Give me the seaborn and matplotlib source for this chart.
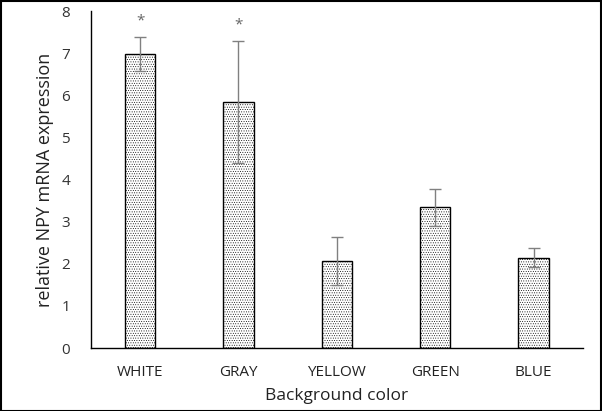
import matplotlib
matplotlib.use("Agg")
import matplotlib.pyplot as plt
import seaborn as sns
import pandas as pd
import numpy as np

categories = ["WHITE", "GRAY", "YELLOW", "GREEN", "BLUE"]
values = [6.98, 5.84, 2.07, 3.34, 2.15]
errors = [0.41, 1.45, 0.56, 0.43, 0.22]
stars = ["*", "*", "", "", ""]
yticks = [0, 1, 2, 3, 4, 5, 6, 7, 8]

sns.set_theme(style="white")
plt.rcParams["font.family"] = ["Open Sans", "DejaVu Sans"]
plt.rcParams["hatch.linewidth"] = 0.35
plt.rcParams["hatch.color"] = "#808080"

df = pd.DataFrame({"cat": categories, "val": values})

fig = plt.figure(figsize=(6.02, 4.11), dpi=100)
ax = fig.add_axes([0.151, 0.153, 0.817, 0.820])

sns.barplot(data=df, x="cat", y="val", ax=ax, color="white", edgecolor="black",
            linewidth=1.0, width=0.31, errorbar=None)
for p in ax.patches:
    p.set_hatch(".......")

x = np.arange(len(categories))
ax.errorbar(x, values, yerr=errors, fmt="none", ecolor="#808080",
            elinewidth=1.0, capsize=4, capthick=1.0)

for xi, v, e, s in zip(x, values, errors, stars):
    if s:
        ax.text(xi, v + e + 0.2, s, ha="center", va="bottom", fontsize=11, color="#666666")

ax.set_ylim(0, 8)
ax.set_yticks(yticks)
ax.set_xlim(-0.5, len(categories) - 0.5)
ax.tick_params(axis="y", direction="in", length=5, width=1, color="black", labelsize=11, pad=15)
ax.tick_params(axis="x", length=0, labelsize=11, pad=12)
for lbl in ax.get_yticklabels():
    lbl.set_color("#333333")
for lbl in ax.get_xticklabels():
    lbl.set_color("#222222")

sns.despine(ax=ax, top=True, right=True)
ax.spines["left"].set_color("black")
ax.spines["bottom"].set_color("black")
ax.spines["left"].set_linewidth(1.0)
ax.spines["bottom"].set_linewidth(1.0)

ax.set_xlabel("Background color", fontsize=12.5, labelpad=6, color="#222222")
ax.set_ylabel("relative NPY mRNA expression", fontsize=13, labelpad=5, color="#222222")

fig.patches.append(plt.Rectangle((0.001, 0.001), 0.997, 0.997, transform=fig.transFigure,
                                 fill=False, edgecolor="black", linewidth=1.5))

fig.savefig("out.png", dpi=100)
